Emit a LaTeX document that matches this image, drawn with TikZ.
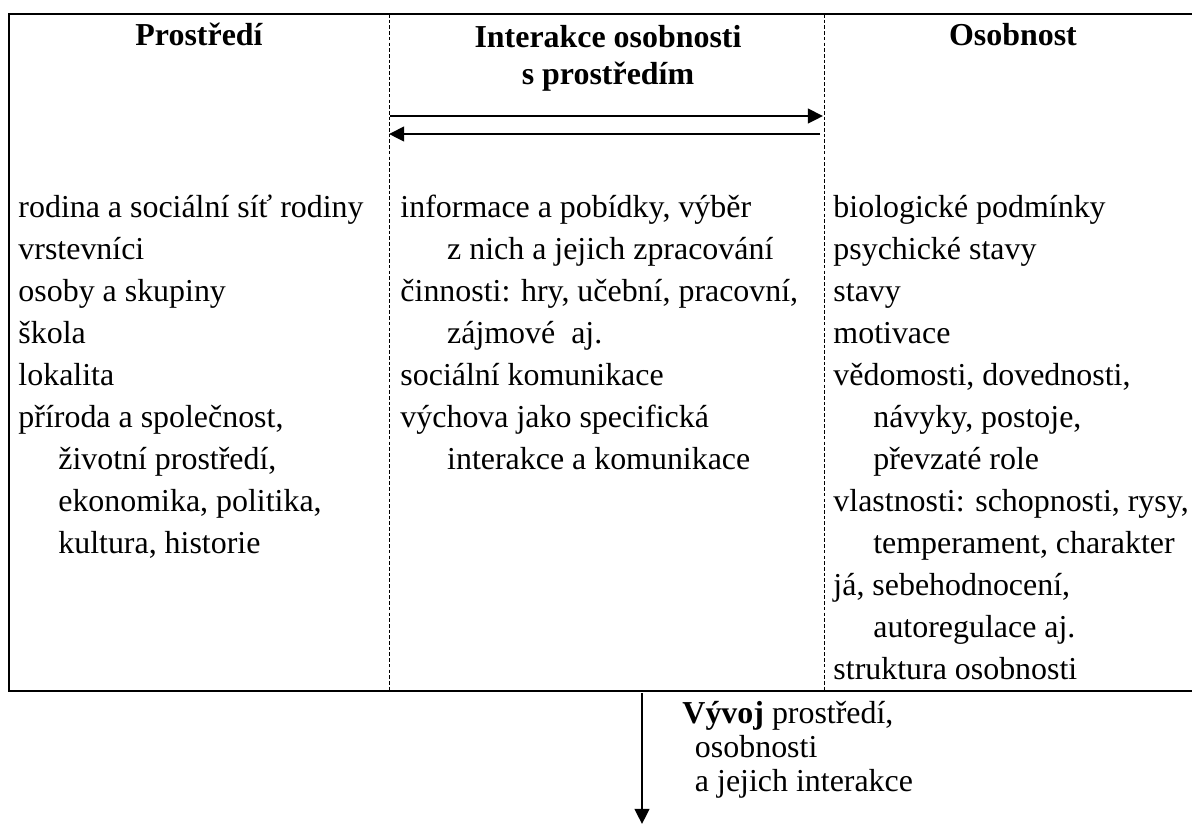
\documentclass[tikz,border=0pt]{standalone}
\usepackage{fontspec}
\setmainfont{Liberation Serif}
\usetikzlibrary{arrows.meta}

\tikzset{
  txt/.style={inner sep=0pt, align=left, font=\fontsize{14}{18.42}\selectfont},
  head/.style={inner sep=0pt, align=center, font=\fontsize{14}{15.8}\selectfont\bfseries},
  frame/.style={line width=1.3pt},
  divider/.style={line width=0.4pt, dash pattern=on 1.6pt off 0.9pt},
  flow/.style={line width=0.9pt, -{Triangle[length=6.6pt,width=6.4pt]}}
}
\newcommand{\ind}{\hspace*{17.5pt}}

\begin{document}
\begin{tikzpicture}[x=0.4386pt,y=-0.4386pt]
\useasboundingbox (0,0) rectangle (1192,824);
% frame and column dividers
\draw[frame] (1200,14) -- (9,14) -- (9,691) -- (1200,691);
\draw[divider] (389,14) -- (389,691);
\draw[divider] (824,14) -- (824,691);
% headings
\node[head,anchor=base] (envhead) at (199,45) {Prostředí};
\node[head,anchor=base] (interhead) at (608,84) {Interakce osobnosti\\ s prostředím};
\node[head,anchor=base] (perhead) at (1013,45) {Osobnost};
% ends of the interaction arrows
\coordinate (envup) at (390,116);
\coordinate (perup) at (823,116);
\coordinate (perdown) at (820,134);
\coordinate (envdown) at (389,134);
\draw[flow] (envup) to (perup);
\draw[flow] (perdown) to (envdown);
% columns (base = last line)
\node[txt,anchor=base west] (envlist) at (18,553) {rodina a sociální síť rodiny\\
vrstevníci\\
osoby a skupiny\\
škola\\
lokalita\\
příroda a společnost,\\
\ind životní prostředí,\\
\ind ekonomika, politika,\\
\ind kultura, historie};
\node[txt,anchor=base west] (interlist) at (400,469) {informace a pobídky, výběr\\
\hspace*{20.5pt}z nich a jejich zpracování\\
činnosti: hry, učební, pracovní,\\
\hspace*{20.5pt}zájmové\ \ aj.\\
sociální komunikace\\
výchova jako specifická\\
\hspace*{20.5pt}interakce a komunikace};
\node[txt,anchor=base west] (perlist) at (833,679) {biologické podmínky\\
psychické stavy\\
stavy\\
motivace\\
vědomosti, dovednosti,\\
\ind návyky, postoje,\\
\ind převzaté role\\
vlastnosti: schopnosti, rysy,\\
\ind temperament, charakter\\
já, sebehodnocení,\\
\ind autoregulace aj.\\
struktura osobnosti};
% development
\coordinate (devstart) at (642,693);
\coordinate (devend) at (642,824);
\draw[flow] (devstart) to (devend);
\node[txt,anchor=base west,font=\fontsize{14}{14.7}\selectfont] (devlabel) at (682,791) {\textbf{Vývoj} prostředí,\\
\hspace*{5.5pt}osobnosti\\
\hspace*{5.5pt}a jejich interakce};
\end{tikzpicture}
\end{document}
